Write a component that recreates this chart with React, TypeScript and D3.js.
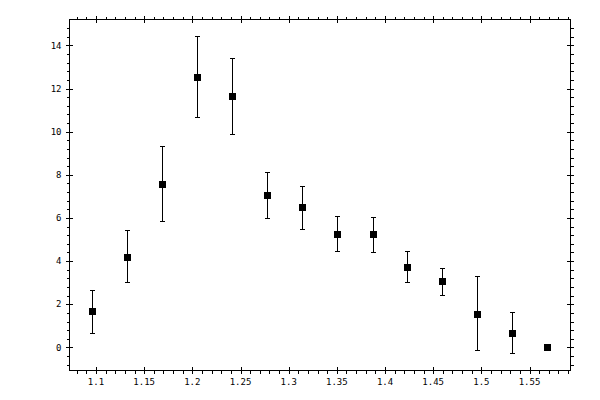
import * as d3 from 'd3';

const xValues = [1.096, 1.132, 1.169, 1.205, 1.241, 1.278, 1.314, 1.350, 1.387, 1.423, 1.459, 1.495, 1.532, 1.568];
const yValues = [1.67, 4.21, 7.59, 12.55, 11.67, 7.08, 6.53, 5.28, 5.28, 3.75, 3.06, 1.57, 0.65, 0.0];
const yErrLow = [0.65, 3.01, 5.85, 10.69, 9.91, 6.02, 5.51, 4.49, 4.44, 3.01, 2.45, -0.13, -0.28, 0.0];
const yErrHigh = [2.64, 5.42, 9.33, 14.44, 13.43, 8.15, 7.50, 6.11, 6.05, 4.49, 3.70, 3.29, 1.62, 0.0];

const xTickValues = [1.1, 1.15, 1.2, 1.25, 1.3, 1.35, 1.4, 1.45, 1.5, 1.55];
const xTickLabels = ['1.1', '1.15', '1.2', '1.25', '1.3', '1.35', '1.4', '1.45', '1.5', '1.55'];
const yTickValues = [0, 2, 4, 6, 8, 10, 12, 14];
const yTickLabels = ['0', '2', '4', '6', '8', '10', '12', '14'];

const W = 600;
const H = 400;
const left = 69.5;
const right = 570.5;
const top = 19.5;
const bottom = 370.5;

export default function App() {
  const x = d3.scaleLinear().domain([1.0725, 1.5925]).range([left, right]);
  const y = d3.scaleLinear().domain([-1.07, 15.2]).range([bottom, top]);

  // minor ticks: every 0.01 on x, every 0.4 on y
  const xMinor = d3.range(108, 160).map(v => v / 100).filter(v => x(v) > left && x(v) < right);
  const yMinor = d3.range(-2, 39).map(v => v * 0.4).filter(v => y(v) < bottom && y(v) > top);

  const r = (v: number) => Math.round(v) + 0.5;
  const font = '"DejaVu Sans Mono", monospace';

  return (
    <div style={{ position: 'fixed', left: 0, top: 0, width: W, height: H, background: '#fff' }}>
      <svg width={W} height={H} shapeRendering="crispEdges">
        <rect x={0} y={0} width={W} height={H} fill="#fff" />
        <rect x={left} y={top} width={right - left} height={bottom - top} fill="none" stroke="#000" strokeWidth={1} />

        {/* minor ticks, drawn outside the frame */}
        {xMinor.map((v, i) => (
          <g key={'xm' + i} stroke="#000">
            <line x1={r(x(v))} x2={r(x(v))} y1={bottom} y2={bottom + 3} />
            <line x1={r(x(v))} x2={r(x(v))} y1={top} y2={top - 3} />
          </g>
        ))}
        {yMinor.map((v, i) => (
          <g key={'ym' + i} stroke="#000">
            <line x1={left} x2={left - 3} y1={r(y(v))} y2={r(y(v))} />
            <line x1={right} x2={right + 3} y1={r(y(v))} y2={r(y(v))} />
          </g>
        ))}

        {/* major ticks cross the frame */}
        {xTickValues.map((v, i) => (
          <g key={'xt' + i}>
            <line x1={r(x(v))} x2={r(x(v))} y1={bottom - 3.5} y2={bottom + 3.5} stroke="#000" />
            <line x1={r(x(v))} x2={r(x(v))} y1={top - 3.5} y2={top + 3.5} stroke="#000" />
            <text x={x(v)} y={bottom + 11} dy="0.35em" textAnchor="middle"
              fontFamily={font} fontSize={9} fill="#000">{xTickLabels[i]}</text>
          </g>
        ))}
        {yTickValues.map((v, i) => (
          <g key={'yt' + i}>
            <line x1={left - 3.5} x2={left + 3.5} y1={r(y(v))} y2={r(y(v))} stroke="#000" />
            <line x1={right - 3.5} x2={right + 3.5} y1={r(y(v))} y2={r(y(v))} stroke="#000" />
            <text x={left - 8} y={y(v)} dy="0.35em" textAnchor="end"
              fontFamily={font} fontSize={9} fill="#000">{yTickLabels[i]}</text>
          </g>
        ))}

        {/* error bars and markers */}
        {xValues.map((xv, i) => {
          const cx = r(x(xv));
          const lo = y(yErrLow[i]);
          const hi = y(yErrHigh[i]);
          return (
            <g key={'p' + i}>
              {yErrHigh[i] !== yErrLow[i] && (
                <g stroke="#000" strokeWidth={1}>
                  <line x1={cx} x2={cx} y1={hi} y2={lo} />
                  <line x1={cx - 2.5} x2={cx + 2.5} y1={r(hi)} y2={r(hi)} />
                  <line x1={cx - 2.5} x2={cx + 2.5} y1={r(lo)} y2={r(lo)} />
                </g>
              )}
              <rect x={cx - 3.5} y={Math.round(y(yValues[i])) - 3} width={7} height={7} fill="#000" />
            </g>
          );
        })}
      </svg>
    </div>
  );
}
